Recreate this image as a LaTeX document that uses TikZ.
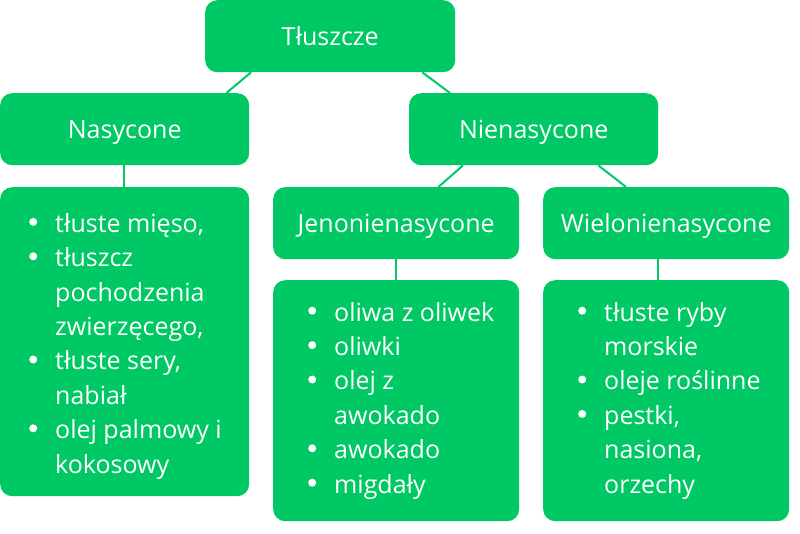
\documentclass[tikz,border=0pt]{standalone}
\usepackage{fontspec}
\setmainfont{Open Sans}
\usetikzlibrary{calc}
\definecolor{gr}{HTML}{00C864}
\newcommand{\bul}{\makebox[26pt][l]{\tikz[baseline=0pt,x=1pt,y=1pt]\fill[white] (4,10.3) circle (4);}}
\newcommand{\nob}{\hspace*{26pt}}
\tikzset{
  box/.style={fill=gr, rounded corners=12pt, inner sep=0pt, anchor=north west},
  head/.style={box, text=white, font=\fontsize{25}{34.4}\selectfont, text height=18pt, text depth=0pt},
  link/.style={draw=gr, line width=2pt},
  lst/.style={text=white, font=\fontsize{25}{34.4}\selectfont, inner sep=0pt, anchor=base west, align=left}
}
\begin{document}
\begin{tikzpicture}[x=1pt,y=-1pt]
\useasboundingbox (0,0) rectangle (800,533);
% header boxes
\node[head, minimum width=250pt, minimum height=72pt] (t) at (205,0) {Tłuszcze};
\node[head, minimum width=249pt, minimum height=72pt] (nas) at (0,93) {Nasycone};
\node[head, minimum width=249pt, minimum height=72pt] (nien) at (409,93) {Nienasycone};
\node[head, minimum width=246pt, minimum height=72pt] (jeno) at (273,187) {Jenonienasycone};
\node[head, minimum width=246pt, minimum height=72pt] (wielo) at (543,187) {Wielonienasycone};
% list boxes
\node[box, minimum width=249pt, minimum height=309pt] (nasl) at (0,187) {};
\node[box, minimum width=246pt, minimum height=241pt] (jenol) at (273,280) {};
\node[box, minimum width=246pt, minimum height=241pt] (wielol) at (543,280) {};
% connectors
\draw[link] ($(t.south west)+(46,0)$) -- ($(nas.north east)+(-23,0)$);
\draw[link] ($(t.south east)+(-33,0)$) -- ($(nien.north west)+(41,0)$);
\draw[link] ($(nien.south west)+(54,0)$) -- ($(jeno.north east)+(-81,0)$);
\draw[link] ($(nien.south east)+(-60,0)$) -- ($(wielo.north west)+(83,0)$);
\draw[link] ($(nas.south)+(-0.5,0)$) -- ($(nasl.north)+(-0.5,0)$);
\draw[link] (jeno.south) -- (jenol.north);
\draw[link] ($(wielo.south)+(-8,0)$) -- ($(wielol.north)+(-8,0)$);
% lists (anchored at the baseline of the last line)
\node[lst] (nastxt) at (29,473) {\bul tłuste mięso,\\ \bul tłuszcz\\ \nob pochodzenia\\ \nob zwierzęcego,\\ \bul tłuste sery,\\ \nob nabiał\\ \bul olej palmowy i\\ \nob kokosowy};
\node[lst] (jenotxt) at (308,493) {\bul oliwa z oliwek\\ \bul oliwki\\ \bul olej z\\ \nob awokado\\ \bul awokado\\ \bul migdały};
\node[lst] (wielotxt) at (578,493) {\bul tłuste ryby\\ \nob morskie\\ \bul oleje roślinne\\ \bul pestki,\\ \nob nasiona,\\ \nob orzechy};
\end{tikzpicture}
\end{document}
